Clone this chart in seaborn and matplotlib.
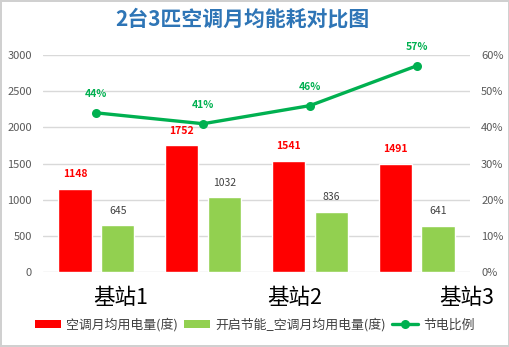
import matplotlib
matplotlib.use("Agg")
import matplotlib.pyplot as plt
from matplotlib.lines import Line2D
from matplotlib.patches import Patch
import seaborn as sns
import pandas as pd

# Monthly AC energy use per site (kWh) and the saving ratio
groups = ["A", "B", "C", "D"]
site_labels = ["基站1", "基站2", "基站3"]
ac_usage = [1148, 1752, 1541, 1491]
saving_usage = [645, 1032, 836, 641]
saving_ratio = [0.44, 0.41, 0.46, 0.57]

series_ac = "空调月均用电量(度)"
series_saving = "开启节能_空调月均用电量(度)"
series_ratio = "节电比例"

RED = "#FF0000"
GREEN = "#92D050"
LINE_GREEN = "#00B050"
TICK_GRAY = "#595959"

sns.set_theme(style="white")
plt.rcParams["font.family"] = ["Noto Sans CJK SC", "DejaVu Sans"]

df = pd.DataFrame({
    "group": groups * 2,
    "value": ac_usage + saving_usage,
    "series": [series_ac] * len(groups) + [series_saving] * len(groups),
})

fig = plt.figure(figsize=(5.10, 3.47), dpi=100, facecolor="white",
                 edgecolor="#D0D0D0", linewidth=1.5)
ax = fig.add_axes([0.0843, 0.2161, 0.8373, 0.6254])

sns.barplot(data=df, x="group", y="value", hue="series",
            palette=[RED, GREEN], width=0.8, gap=0.22, saturation=1,
            ax=ax, legend=False)

ax.set_ylim(0, 3000)
ax.set_yticks(range(0, 3001, 500))
ax.set_xlim(-0.5, len(groups) - 0.5)
ax.set_xlabel("")
ax.set_ylabel("")
ax.set_xticks(range(len(groups)))
ax.set_xticklabels([])
ax.tick_params(axis="x", length=0)
ax.tick_params(axis="y", length=0, labelsize=8, labelcolor=TICK_GRAY, pad=8)
ax.grid(axis="y", color="#D9D9D9", linewidth=1)
ax.set_axisbelow(True)
for s in ax.spines.values():
    s.set_visible(False)

ax.bar_label(ax.containers[0], labels=[str(v) for v in ac_usage],
             padding=7, color=RED, fontsize=7.5, fontweight="bold")
ax.bar_label(ax.containers[1], labels=[str(v) for v in saving_usage],
             padding=7, color="#404040", fontsize=7.5)

ax2 = ax.twinx()
sns.lineplot(x=list(range(len(groups))), y=saving_ratio, ax=ax2,
             color=LINE_GREEN, linewidth=2.4, marker="o", markersize=6.5,
             markeredgewidth=0)
ax2.set_ylim(0, 0.6)
ax2.set_yticks([i / 10 for i in range(7)])
ax2.set_yticklabels([f"{i * 10}%" for i in range(7)])
ax2.tick_params(axis="y", length=0, labelsize=8, labelcolor=TICK_GRAY, pad=8)
for s in ax2.spines.values():
    s.set_visible(False)
for i, r in enumerate(saving_ratio):
    ax2.annotate(f"{round(r * 100)}%", (i, r), xytext=(0, 10),
                 textcoords="offset points", ha="center", va="bottom",
                 color=LINE_GREEN, fontsize=7.5, fontweight="bold")

# Site names along the bottom
for xf, name in zip([0.236, 0.577, 0.916], site_labels):
    fig.text(xf, 0.14, name, ha="center", va="center", fontsize=15.5,
             color="black")

fig.text(0.476, 0.945, "2台3匹空调月均能耗对比图", ha="center", va="center",
         fontsize=15, fontweight="bold", color="#2E75B6")

handles = [
    Patch(facecolor=RED, edgecolor="none"),
    Patch(facecolor=GREEN, edgecolor="none"),
    Line2D([], [], color=LINE_GREEN, linewidth=2.4, marker="o", markersize=6.5,
           markeredgewidth=0),
]
fig.legend(handles, [series_ac, series_saving, series_ratio],
           loc="center", bbox_to_anchor=(0.5, 0.065), ncol=3, frameon=False,
           fontsize=9.3, handlelength=2.0, handleheight=0.55,
           handletextpad=0.4, columnspacing=0.5, labelcolor="#404040")

fig.savefig("out.png", dpi=100, facecolor=fig.get_facecolor(),
            edgecolor=fig.get_edgecolor())
